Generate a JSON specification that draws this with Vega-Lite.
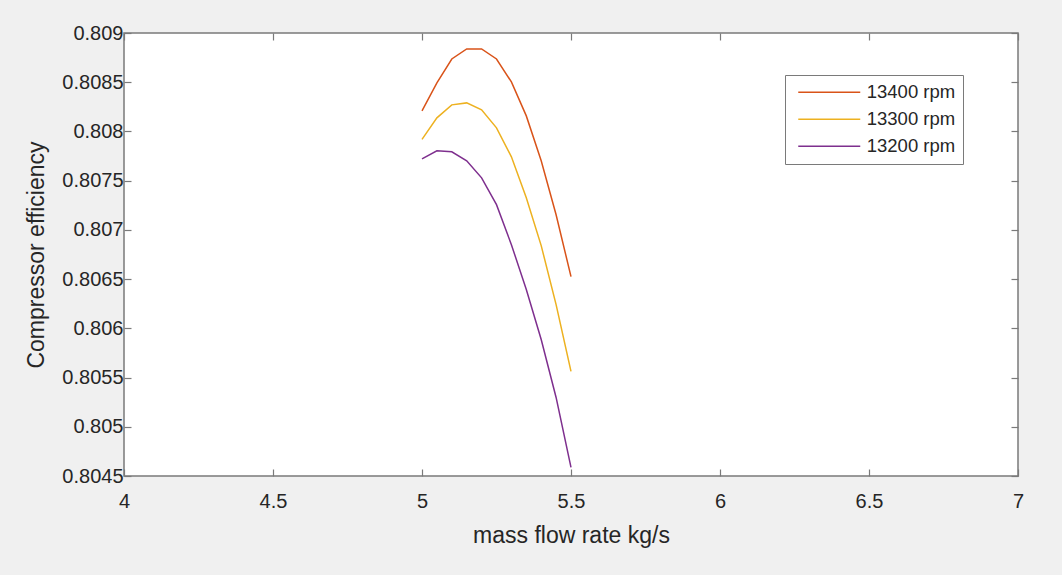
{
  "$schema": "https://vega.github.io/schema/vega-lite/v6.json",
  "width": 894,
  "height": 443,
  "autosize": {"type": "none"},
  "padding": {"left": 124, "top": 33, "right": 44, "bottom": 99},
  "background": "#f0f0f0",
  "config": {
    "view": {"fill": "white", "stroke": "#7a7a7a", "strokeWidth": 1.5},
    "font": "Liberation Sans",
    "axis": {
      "domain": false,
      "grid": false,
      "labelFlush": false,
      "tickColor": "#7a7a7a",
      "tickWidth": 1.2,
      "labelFont": "Liberation Sans",
      "labelFontSize": 20,
      "labelColor": "#262626",
      "titleFont": "Liberation Sans",
      "titleFontSize": 23,
      "titleFontWeight": "normal",
      "titleColor": "#262626"
    }
  },
  "data": {
    "values": [
      {"x": 5.00, "rpm": "13400 rpm", "eff": 0.808209},
      {"x": 5.05, "rpm": "13400 rpm", "eff": 0.808493},
      {"x": 5.10, "rpm": "13400 rpm", "eff": 0.808736},
      {"x": 5.15, "rpm": "13400 rpm", "eff": 0.808838},
      {"x": 5.20, "rpm": "13400 rpm", "eff": 0.808838},
      {"x": 5.25, "rpm": "13400 rpm", "eff": 0.808736},
      {"x": 5.30, "rpm": "13400 rpm", "eff": 0.808503},
      {"x": 5.35, "rpm": "13400 rpm", "eff": 0.808158},
      {"x": 5.40, "rpm": "13400 rpm", "eff": 0.807702},
      {"x": 5.45, "rpm": "13400 rpm", "eff": 0.807154},
      {"x": 5.50, "rpm": "13400 rpm", "eff": 0.806525},
      {"x": 5.00, "rpm": "13300 rpm", "eff": 0.807920},
      {"x": 5.05, "rpm": "13300 rpm", "eff": 0.808138},
      {"x": 5.10, "rpm": "13300 rpm", "eff": 0.808270},
      {"x": 5.15, "rpm": "13300 rpm", "eff": 0.808290},
      {"x": 5.20, "rpm": "13300 rpm", "eff": 0.808219},
      {"x": 5.25, "rpm": "13300 rpm", "eff": 0.808037},
      {"x": 5.30, "rpm": "13300 rpm", "eff": 0.807742},
      {"x": 5.35, "rpm": "13300 rpm", "eff": 0.807327},
      {"x": 5.40, "rpm": "13300 rpm", "eff": 0.806840},
      {"x": 5.45, "rpm": "13300 rpm", "eff": 0.806241},
      {"x": 5.50, "rpm": "13300 rpm", "eff": 0.805562},
      {"x": 5.00, "rpm": "13200 rpm", "eff": 0.807722},
      {"x": 5.05, "rpm": "13200 rpm", "eff": 0.807803},
      {"x": 5.10, "rpm": "13200 rpm", "eff": 0.807793},
      {"x": 5.15, "rpm": "13200 rpm", "eff": 0.807702},
      {"x": 5.20, "rpm": "13200 rpm", "eff": 0.807529},
      {"x": 5.25, "rpm": "13200 rpm", "eff": 0.807256},
      {"x": 5.30, "rpm": "13200 rpm", "eff": 0.806850},
      {"x": 5.35, "rpm": "13200 rpm", "eff": 0.806394},
      {"x": 5.40, "rpm": "13200 rpm", "eff": 0.805886},
      {"x": 5.45, "rpm": "13200 rpm", "eff": 0.805298},
      {"x": 5.50, "rpm": "13200 rpm", "eff": 0.804588}
    ]
  },
  "layer": [
    {
      "mark": {"type": "line", "strokeWidth": 1.5},
      "encoding": {
        "x": {
          "field": "x", "type": "quantitative",
          "scale": {"domain": [4, 7], "nice": false, "zero": false},
          "axis": {"values": [4, 4.5, 5, 5.5, 6, 6.5, 7], "format": "~g", "tickSize": -7, "labelPadding": 22, "title": "mass flow rate kg/s", "titlePadding": 13}
        },
        "y": {
          "field": "eff", "type": "quantitative",
          "scale": {"domain": [0.8045, 0.809], "nice": false, "zero": false},
          "axis": {"values": [0.8045, 0.805, 0.8055, 0.806, 0.8065, 0.807, 0.8075, 0.808, 0.8085, 0.809], "format": "~g", "tickSize": -7, "labelPadding": 8, "title": "Compressor efficiency", "titlePadding": 13}
        },
        "color": {
          "field": "rpm", "type": "nominal",
          "scale": {"domain": ["13400 rpm", "13300 rpm", "13200 rpm"], "range": ["#D95319", "#EDB120", "#7E2F8E"]},
          "legend": {
            "orient": "none", "legendX": 661, "legendY": 42, "title": null,
            "fillColor": "white", "strokeColor": "#7a7a7a",
            "symbolType": "stroke", "symbolSize": 3844, "symbolStrokeWidth": 1.5,
            "symbolOffset": 5.25, "clipHeight": 20.6,
            "labelFont": "Liberation Sans", "labelFontSize": 18.5, "labelColor": "#262626",
            "labelOffset": 5.5, "padding": 7, "rowPadding": 6
          }
        }
      }
    },
    {
      "mark": {"type": "line", "strokeOpacity": 0},
      "encoding": {
        "x": {
          "field": "x", "type": "quantitative",
          "axis": {"orient": "top", "values": [4, 4.5, 5, 5.5, 6, 6.5, 7], "labels": false, "tickSize": -7, "title": null}
        },
        "y": {
          "field": "eff", "type": "quantitative",
          "axis": {"orient": "right", "values": [0.8045, 0.805, 0.8055, 0.806, 0.8065, 0.807, 0.8075, 0.808, 0.8085, 0.809], "labels": false, "tickSize": -7, "title": null}
        },
        "detail": {"field": "rpm"}
      }
    }
  ],
  "resolve": {"axis": {"x": "independent", "y": "independent"}}
}
